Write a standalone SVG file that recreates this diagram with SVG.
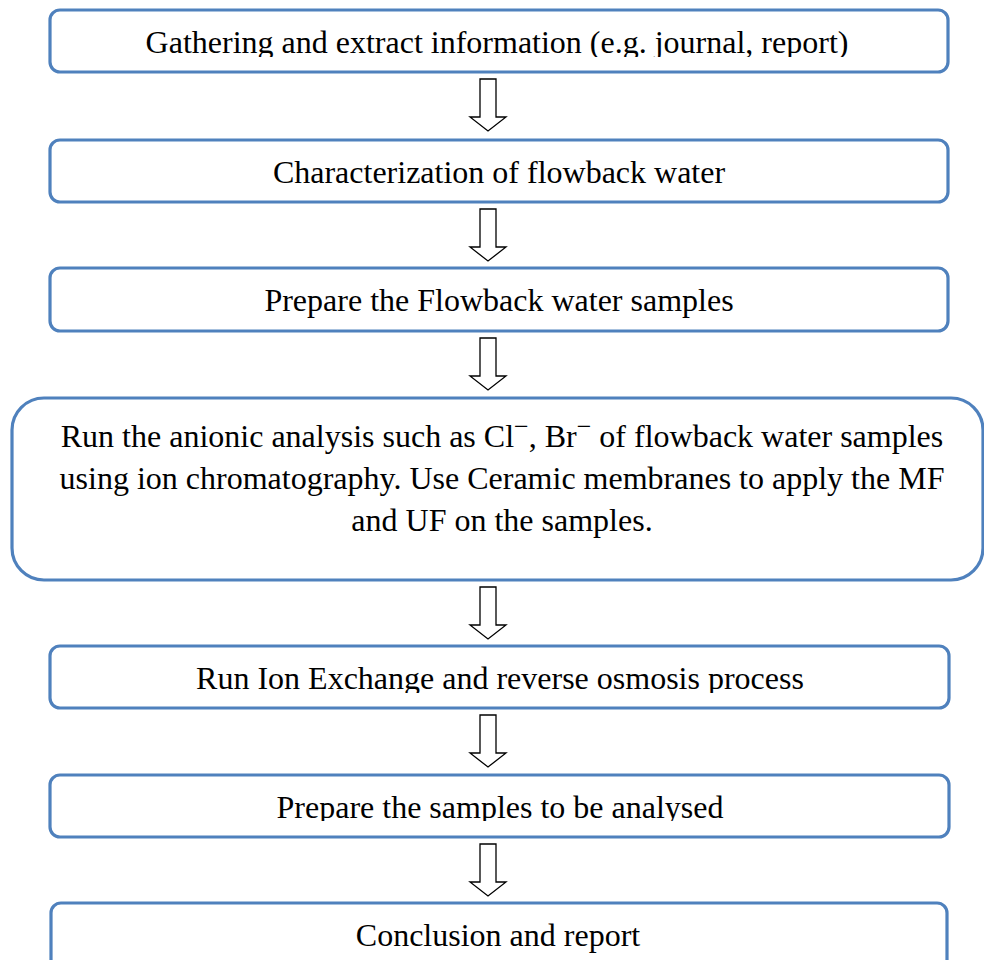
<svg xmlns="http://www.w3.org/2000/svg" width="984" height="960" viewBox="0 0 984 960">
<style>
.box{fill:#fff;stroke:#4F81BD;stroke-width:3.2}
.t{font-family:"Liberation Serif","Times New Roman",serif;font-size:32px;fill:#000;text-anchor:middle}
.arr{fill:#fff;stroke:#000;stroke-width:1.3;stroke-linejoin:miter}
</style>
<defs>
<clipPath id="c1"><rect x="0" y="0" width="984" height="57"/></clipPath>
<clipPath id="c5"><rect x="0" y="640" width="984" height="53"/></clipPath>
<clipPath id="c6"><rect x="0" y="770" width="984" height="51"/></clipPath>
<path id="arrow" d="M-8,0 H8 V38 H18 L0,52 L-18,38 H-8 Z"/>
</defs>
<rect width="984" height="960" fill="#fff"/>
<g id="n1"><rect class="box" x="50" y="10" width="898" height="62" rx="10"/><text class="t" x="497" y="53" clip-path="url(#c1)">Gathering and extract information (e.g. journal, report)</text></g>
<g id="n2"><rect class="box" x="50" y="140" width="898" height="62" rx="10"/><text class="t" x="499" y="183">Characterization of flowback water</text></g>
<g id="n3"><rect class="box" x="50" y="268" width="898" height="63" rx="10"/><text class="t" x="499" y="311">Prepare the Flowback water samples</text></g>
<g id="n4"><rect class="box" x="12" y="398" width="971" height="182" rx="32"/>
<text class="t" x="502" y="447">Run the anionic analysis such as Cl<tspan dy="-12" font-size="26">−</tspan><tspan dy="12">, Br</tspan><tspan dy="-12" font-size="26">−</tspan><tspan dy="12"> of flowback water samples</tspan></text>
<text class="t" x="502" y="489">using ion chromatography. Use Ceramic membranes to apply the MF</text>
<text class="t" x="502" y="531">and UF on the samples.</text></g>
<g id="n5"><rect class="box" x="50" y="646" width="899" height="62" rx="10"/><text class="t" x="500" y="689" clip-path="url(#c5)">Run Ion Exchange and reverse osmosis process</text></g>
<g id="n6"><rect class="box" x="50" y="775" width="899" height="62" rx="10"/><text class="t" x="500" y="818" clip-path="url(#c6)">Prepare the samples to be analysed</text></g>
<g id="n7"><rect class="box" x="51" y="903" width="896" height="70" rx="10"/><text class="t" x="498" y="946">Conclusion and report</text></g>
<g id="connectors">
<use href="#arrow" class="arr" x="488" y="79"/>
<use href="#arrow" class="arr" x="488" y="209"/>
<use href="#arrow" class="arr" x="488" y="338"/>
<use href="#arrow" class="arr" x="488" y="587"/>
<use href="#arrow" class="arr" x="488" y="715"/>
<use href="#arrow" class="arr" x="488" y="844"/>
</g>
</svg>
